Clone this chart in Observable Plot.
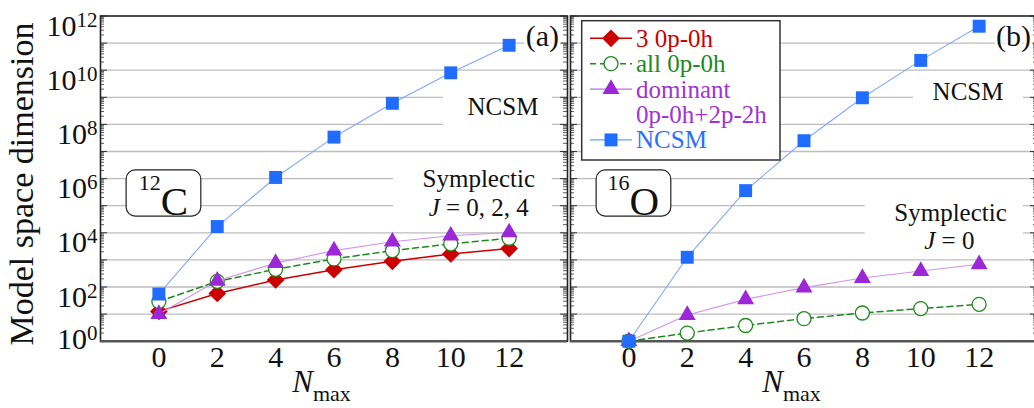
<!DOCTYPE html>
<html>
<head>
<meta charset="utf-8">
<script src="https://cdn.jsdelivr.net/npm/d3@7"></script>
<script src="https://cdn.jsdelivr.net/npm/@observablehq/plot@0.6"></script>
<style>
  html, body { margin: 0; padding: 0; background: #fff; overflow: hidden; }
  #wrap { position: relative; width: 1034px; height: 408px; overflow: hidden; background: #fff; }
  #wrap > svg { position: absolute; top: 0; margin: 0; }
</style>
</head>
<body>
<div id="wrap"></div>
<script>
// ---------------- data ----------------
const nmax = [0, 2, 4, 6, 8, 10, 12];

// 12C (panel a)
const c12Three    = [12.6, 58, 182, 436, 890, 1660, 2620];
const c12All      = [29, 162, 450, 1090, 2200, 3900, 6300];
const c12Dominant = [10, 170, 760, 2200, 4700, 7800, 10300];
const c12Ncsm     = [55, 1.7e4, 1.1e6, 3.4e7, 6.0e8, 8.0e9, 8.3e10];

// 16O (panel b)
const o16All      = [1, 2, 3.8, 6.8, 11, 16, 23];
const o16Dominant = [1, 9.2, 35, 95, 215, 390, 690];
const o16Ncsm     = [1, 1250, 3.6e5, 2.5e7, 9.6e8, 2.3e10, 4.2e11];

const xTicks = [0, 2, 4, 6, 8, 10, 12];
const yLabelExponents = [0, 2, 4, 6, 8, 10, 12];
const gridExponents = [1, 2, 3, 4, 5, 6, 7, 8, 9, 10, 11];

const legendLabels = ["3 0p-0h", "all 0p-0h", "dominant", "0p-0h+2p-2h", "NCSM"];
const legendKinds  = ["three", "all", "dom", null, "ncsm"];

// ---------------- styles ----------------
const FONT = "'Liberation Serif', 'Times New Roman', serif";
const STY = {
  three: {line: "#cc0000", lw: 1.5, dash: null, symbol: "diamond2", r: 8, fill: "#cc0000", stroke: null, text: "#cc0000", legLine: "#cc0000"},
  all:   {line: "#1e8a1e", lw: 1.5, dash: "6,4", symbol: "circle", r: 7, fill: "white", stroke: "#1e8a1e", text: "#1e8a1e", legLine: "#1e8a1e"},
  dom:   {line: "#cf95ec", lw: 1.1, dash: null, symbol: "triangle", r: 6.3, fill: "#9b27d6", stroke: null, text: "#a033d6", legLine: "#b36ee0"},
  ncsm:  {line: "#80a8ff", lw: 1.1, dash: null, symbol: "square", r: 7.3, fill: "#1f6cff", stroke: null, text: "#2a6fff", legLine: "#6f9dff"}
};

const X_DOMAIN = [-2, 14];
const Y_DOMAIN = [1, 1e12];
const INNER_W = 467;
const unitPx = INNER_W / (X_DOMAIN[1] - X_DOMAIN[0]);
const majT = 7 / unitPx, minT = 4 / unitPx;

const decadeVals = d3.range(0, 13).map(e => 10 ** e);
const minorVals = [];
for (let e = 0; e < 12; e++) for (let m = 2; m <= 9; m++) minorVals.push(m * 10 ** e);

function rows(vals) { return nmax.map((n, i) => ({n, v: vals[i]})); }

function seriesMarks(kind, vals) {
  const s = STY[kind];
  const d = rows(vals);
  const dotOpts = {x: "n", y: "v", symbol: s.symbol, r: s.r, fill: s.fill};
  if (s.stroke) { dotOpts.stroke = s.stroke; dotOpts.strokeWidth = 1.3; }
  return [
    Plot.line(d, {x: "n", y: "v", stroke: s.line, strokeWidth: s.lw, strokeDasharray: s.dash}),
    Plot.dot(d, dotOpts)
  ];
}

function frameMarks() {
  const tk = {stroke: "#333", strokeWidth: 1};
  return [
    Plot.ruleY(decadeVals, {x1: X_DOMAIN[0], x2: X_DOMAIN[0] + majT, ...tk}),
    Plot.ruleY(minorVals,  {x1: X_DOMAIN[0], x2: X_DOMAIN[0] + minT, ...tk, strokeWidth: 0.8}),
    Plot.ruleY(decadeVals, {x1: X_DOMAIN[1] - majT, x2: X_DOMAIN[1], ...tk}),
    Plot.ruleY(minorVals,  {x1: X_DOMAIN[1] - minT, x2: X_DOMAIN[1], ...tk, strokeWidth: 0.8}),
    Plot.frame({stroke: "#222", strokeWidth: 1.6}),
    Plot.ruleY([1], {stroke: "#555", strokeWidth: 2.6})
  ];
}

function gridMarks() {
  return [Plot.ruleY(gridExponents.map(e => 10 ** e), {stroke: "#bdbdbd", strokeWidth: 1.3})];
}

function nmaxLabel() {
  return Plot.text(["~N|_max"], {
    x: 6, frameAnchor: "bottom", textAnchor: "middle", lineAnchor: "middle",
    dy: 41, dx: -12.5, fontSize: 31, fill: "#111",
    ariaLabel: () => "rich-n"
  });
}

function nucleusBox(label) {
  return [
    Plot.rect([0], {x1: -1.105, x2: 1.454, y1: 10 ** 4.6, y2: 10 ** 6.3, fill: "white", stroke: "#222", strokeWidth: 1.2, rx: 9}),
    Plot.text([label], {x: 0.155, y: 10 ** 5.157, fontSize: 41, fill: "#111", ariaLabel: () => "rich-box"})
  ];
}

function yTickLabels(exps, dy) {
  return Plot.axisY(exps.map(e => 10 ** e), {
    anchor: "left", tickSize: 0, tickPadding: 3, fontSize: 30, dy, label: null,
    tickFormat: d => "10|^" + Math.round(Math.log10(d))
  });
}

function baseOpts(width, marginLeft, marginRight) {
  return {
    width, height: 408,
    marginLeft, marginRight, marginTop: 15.5, marginBottom: 67.3,
    style: {fontFamily: FONT, background: "transparent", overflow: "visible", color: "#111"},
    x: {domain: X_DOMAIN},
  };
}

// ---------------- panel a ----------------
const plotA = Plot.plot({
  ...baseOpts(569, 100, 2),
  y: {type: "log", domain: Y_DOMAIN},
  marks: [
    ...gridMarks(),
    Plot.rect([0], {x1: 9.75, x2: 13.48, y1: 10 ** 7.5, y2: 10 ** 9.5, fill: "white"}),
    Plot.rect([0], {x1: 8.04, x2: 13.48, y1: 10 ** 4.5, y2: 10 ** 6.5, fill: "white"}),
    ...nucleusBox("^12|C"),
    ...frameMarks(),
    yTickLabels(yLabelExponents.slice(0, 1), -1.5),
    yTickLabels(yLabelExponents.slice(1), 10),
    Plot.axisX(xTicks, {anchor: "bottom", tickSize: 0, tickPadding: 4, fontSize: 30, label: null}),
    Plot.text(["Model space dimension"], {
      frameAnchor: "left", textAnchor: "middle", lineAnchor: "middle", rotate: -90,
      dx: -78, dy: 5.4, fontSize: 34, fill: "#111"
    }),
    nmaxLabel(),
    Plot.text(["(a)"], {x: 13.14, y: 10 ** 11.23, fontSize: 30, fill: "#111", stroke: "white", strokeWidth: 6, paintOrder: "stroke"}),
    Plot.text(["NCSM"], {x: 11.79, y: 10 ** 8.65, fontSize: 25, fill: "#111"}),
    Plot.text(["Symplectic"], {x: 10.96, y: 10 ** 5.98, fontSize: 25, fill: "#111"}),
    Plot.text(["~J| = 0, 2, 4"], {x: 10.96, y: 10 ** 4.93, fontSize: 25, fill: "#111", ariaLabel: () => "rich-j"}),
    ...seriesMarks("three", c12Three),
    ...seriesMarks("all", c12All),
    ...seriesMarks("dom", c12Dominant),
    ...seriesMarks("ncsm", c12Ncsm)
  ]
});

// ---------------- panel b ----------------
const plotB = Plot.plot({
  ...baseOpts(470, 2, 1),
  y: {type: "log", domain: Y_DOMAIN, axis: null},
  marks: [
    ...gridMarks(),
    Plot.rect([0], {x1: 9.75, x2: 13.52, y1: 10 ** 8.5, y2: 10 ** 9.5, fill: "white"}),
    Plot.rect([0], {x1: 8.1, x2: 13.52, y1: 10 ** 3.5, y2: 10 ** 5.5, fill: "white"}),
    ...nucleusBox("^16|O"),
    ...frameMarks(),
    Plot.axisX(xTicks, {anchor: "bottom", tickSize: 0, tickPadding: 4, fontSize: 30, label: null}),
    nmaxLabel(),
    Plot.text(["(b)"], {x: 13.18, y: 10 ** 11.23, fontSize: 30, fill: "#111", stroke: "white", strokeWidth: 6, paintOrder: "stroke"}),
    Plot.text(["NCSM"], {x: 11.62, y: 10 ** 9.18, fontSize: 25, fill: "#111"}),
    Plot.text(["Symplectic"], {x: 11.02, y: 10 ** 4.72, fontSize: 25, fill: "#111"}),
    Plot.text(["~J| = 0"], {x: 10.98, y: 10 ** 3.70, fontSize: 25, fill: "#111", ariaLabel: () => "rich-j"}),
    ...seriesMarks("all", o16All),
    ...seriesMarks("dom", o16Dominant),
    ...seriesMarks("ncsm", o16Ncsm)
  ]
});

const wrap = document.getElementById("wrap");
plotA.style.left = "0px";
plotB.style.left = "568px";
wrap.appendChild(plotA);
wrap.appendChild(plotB);

// ---------------- rich text (super/subscripts, italics) ----------------
const SVGNS = "http://www.w3.org/2000/svg";
function richify(root, selector, p) {
  root.querySelectorAll(selector).forEach(t => {
    const s = t.textContent;
    if (!s.includes("|")) return;
    while (t.firstChild) t.removeChild(t.firstChild);
    let shift = 0;
    for (const seg of s.split("|")) {
      let kind = "", txt = seg;
      if (seg.length && "^_~".includes(seg[0])) { kind = seg[0]; txt = seg.slice(1); }
      const ts = document.createElementNS(SVGNS, "tspan");
      ts.textContent = txt;
      let target = 0;
      if (kind === "^") { target = -p.supShift; ts.setAttribute("font-size", p.supSize); }
      else if (kind === "_") { target = p.subShift; ts.setAttribute("font-size", p.subSize); }
      else if (kind === "~") { ts.setAttribute("font-style", "italic"); }
      if (target !== shift) { ts.setAttribute("dy", target - shift); shift = target; }
      t.appendChild(ts);
    }
  });
}
for (const svg of [plotA, plotB]) {
  richify(svg, 'g[aria-label="y-axis tick label"] text', {supSize: 21, supShift: 9});
  richify(svg, 'text[aria-label="rich-box"]', {supSize: 22, supShift: 24.5});
  richify(svg, 'text[aria-label="rich-n"]', {subSize: 22, subShift: 9});
  richify(svg, 'text[aria-label="rich-j"]', {});
  richify(svg, 'text', {supSize: 21, supShift: 9, subSize: 22, subShift: 9});
}

// ---------------- legend (inside panel b) ----------------
const leg = d3.select(wrap).append("svg")
  .attr("width", 1034).attr("height", 408)
  .style("left", "0px").style("pointer-events", "none")
  .style("font-family", FONT);
leg.append("rect")
  .attr("x", 581.7).attr("y", 20.7).attr("width", 198.3).attr("height", 139.3)
  .attr("fill", "white").attr("stroke", "#333").attr("stroke-width", 1.5);
legendLabels.forEach((label, i) => {
  const cy = 38.3 + i * 25.4;
  const kind = legendKinds[i];
  const s = STY[kind || "dom"];
  if (kind) {
    leg.append("line").attr("x1", 590).attr("x2", 632).attr("y1", cy).attr("y2", cy)
      .attr("stroke", s.legLine).attr("stroke-width", s.lw).attr("stroke-dasharray", s.dash);
    const sym = {diamond2: d3.symbolDiamond2, circle: d3.symbolCircle, triangle: d3.symbolTriangle, square: d3.symbolSquare}[s.symbol];
    leg.append("path")
      .attr("d", d3.symbol(sym, Math.PI * s.r * s.r)())
      .attr("transform", `translate(611,${cy})`)
      .attr("fill", s.fill).attr("stroke", s.stroke || "none").attr("stroke-width", 1.3);
  }
  leg.append("text").attr("x", 636).attr("y", cy).attr("dy", "0.34em")
    .attr("font-size", 25).attr("fill", s.text).text(label);
});
</script>
</body>
</html>
